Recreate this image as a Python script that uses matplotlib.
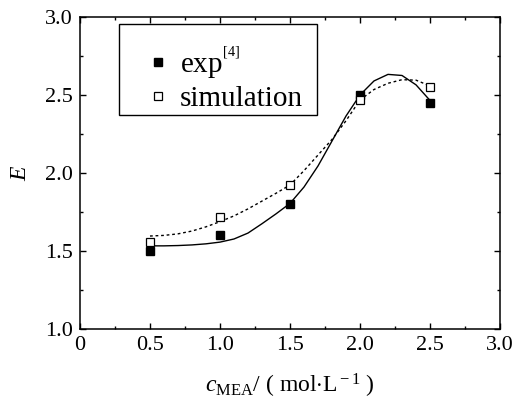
import numpy as np
import matplotlib
matplotlib.use('Agg')
import matplotlib.pyplot as plt
from matplotlib.patches import Rectangle
from matplotlib.ticker import MultipleLocator, FixedLocator

# measured points
conc = [0.5, 1.0, 1.5, 2.0, 2.5]
E_exp = [1.50, 1.60, 1.80, 2.50, 2.45]
E_sim = [1.56, 1.72, 1.92, 2.47, 2.55]

# fitted curves
conc_fit = [0.5, 0.6, 0.7, 0.8, 0.9, 1.0, 1.1, 1.2, 1.3, 1.4, 1.5,
            1.6, 1.7, 1.8, 1.9, 2.0, 2.1, 2.2, 2.3, 2.4, 2.5]
E_exp_fit = [1.533, 1.533, 1.535, 1.539, 1.546, 1.557, 1.577, 1.615, 1.675, 1.738, 1.805,
             1.910, 2.045, 2.205, 2.365, 2.500, 2.590, 2.632, 2.625, 2.565, 2.465]
E_sim_fit = [1.596, 1.600, 1.610, 1.628, 1.655, 1.688, 1.725, 1.770, 1.820, 1.870, 1.923,
             2.015, 2.115, 2.215, 2.335, 2.468, 2.535, 2.575, 2.598, 2.595, 2.558]

xticks = [0, 0.5, 1.0, 1.5, 2.0, 2.5, 3.0]
xticklabels = ['0', '0.5', '1.0', '1.5', '2.0', '2.5', '3.0']
yticks = [1.0, 1.5, 2.0, 2.5, 3.0]
yticklabels = ['1.0', '1.5', '2.0', '2.5', '3.0']

plt.rcParams['font.family'] = ['Liberation Serif', 'DejaVu Serif']
plt.rcParams['mathtext.fontset'] = 'custom'
plt.rcParams['mathtext.rm'] = 'Liberation Serif'
plt.rcParams['mathtext.it'] = 'Liberation Serif:italic'

fig = plt.figure(figsize=(5.15, 4.04), dpi=100)
ax = fig.add_axes([0.1553, 0.1856, 0.8156, 0.7724])

ax.plot(conc_fit, E_exp_fit, '-', color='k', linewidth=1.0)
ax.plot(conc_fit, E_sim_fit, color='k', linewidth=1.0, linestyle=(0, (2, 2)))
ax.plot(conc, E_exp, 's', color='k', markersize=5.5, label='exp$^{^{\\rm [4]}}$')
ax.plot(conc, E_sim, 's', markerfacecolor='white', markeredgecolor='k',
        markeredgewidth=0.9, markersize=5.5, label='simulation')

ax.set_xlim(0, 3.0)
ax.set_ylim(1.0, 3.0)
ax.xaxis.set_major_locator(FixedLocator(xticks))
ax.set_xticklabels(xticklabels)
ax.yaxis.set_major_locator(FixedLocator(yticks))
ax.set_yticklabels(yticklabels)
ax.xaxis.set_minor_locator(MultipleLocator(0.25))
ax.yaxis.set_minor_locator(MultipleLocator(0.25))
ax.tick_params(which='both', direction='in', top=True, right=True, width=1.0)
ax.tick_params(which='major', length=4.2, labelsize=16, pad=5)
ax.tick_params(which='minor', length=2.2)
for sp in ax.spines.values():
    sp.set_linewidth(1.1)

ax.set_xlabel('$c_{\\rm MEA}$/ ( mol$\\cdot$L$^{\\rm -1}$ )', fontsize=17, labelpad=12)
ax.set_ylabel('$E$', fontsize=17, labelpad=10)

# legend box drawn on its own so the padding matches
ax.add_patch(Rectangle((0.093, 0.686), 0.471, 0.292, transform=ax.transAxes,
                       facecolor='white', edgecolor='k', linewidth=1.0, zorder=4))
leg = ax.legend(loc='upper left', bbox_to_anchor=(0.151, 0.914), fontsize=21,
                frameon=False, handlelength=1.0, handletextpad=0.25,
                borderpad=0, labelspacing=0.185, borderaxespad=0)
leg.set_zorder(5)

fig.savefig('out.png', dpi=100)
